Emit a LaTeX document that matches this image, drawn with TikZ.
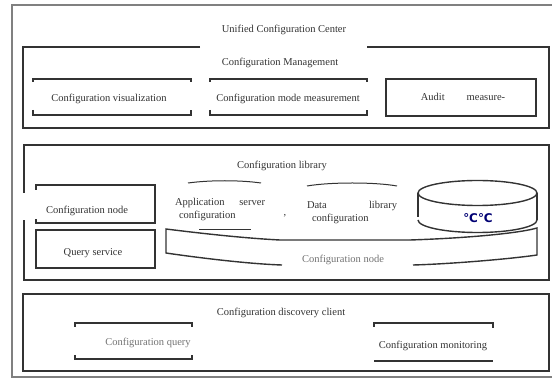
\documentclass[tikz,border=0pt]{standalone}
\usepackage{fontspec}
\setmainfont{Liberation Serif}
\newfontfamily\degfont{DejaVu Sans}
\begin{document}
\begin{tikzpicture}[x=1pt,y=-1pt,
  lbl/.style={font=\fontsize{10.5}{13}\selectfont, text=black!80, inner sep=0pt},
  faint/.style={font=\fontsize{10.5}{13}\selectfont, text=black!55, inner sep=0pt},
  frame/.style={draw=black!80, line width=1.4pt},
  thinline/.style={draw=black!80, line width=1pt},
  outer/.style={draw=black!50, line width=2.2pt}]
\useasboundingbox (0,0) rectangle (552,379);
% outer frame
\draw[outer] (552,5) -- (12,5) -- (12,377) -- (552,377);
\node[lbl] (title) at (284,30) {Unified Configuration Center};
% configuration management
\draw[frame] (200,47) -- (23,47) -- (23,128) -- (549,128) -- (549,47) -- (367,47);
\node[lbl] (mgmt) at (280,63) {Configuration Management};
\draw[frame] (33,82) -- (33,79) -- (191,79) -- (191,82);
\draw[frame] (33,110) -- (33,115) -- (191,115) -- (191,110);
\node[lbl] (vis) at (109,99) {Configuration visualization};
\draw[frame] (210,82) -- (210,79) -- (367,79) -- (367,82);
\draw[frame] (210,110) -- (210,115) -- (367,115) -- (367,110);
\node[lbl] (modem) at (288,99) {Configuration mode measurement};
\draw[frame] (386,79) rectangle (536,116);
\node[lbl] (audit) at (463,97) {Audit\hspace{22pt}measure-};
% configuration library
\draw[frame] (24,193) -- (24,145) -- (549,145) -- (549,280) -- (24,280) -- (24,220);
\node[lbl] (lib) at (282,166) {Configuration library};
\draw[frame] (36,190) -- (36,185) -- (155,185) -- (155,223) -- (36,223) -- (36,219);
\node[lbl] (cnode) at (87,211) {Configuration node};
\draw[frame] (36,230) rectangle (155,268);
\node[lbl] (query) at (93,253) {Query service};
% application server configuration
\draw[thinline] (188,183) .. controls (210,180) and (240,180) .. (261,183);
\draw[thinline] (199,230) -- (251,230);
\node[lbl] (app) at (220,209) {\parbox{90pt}{Application\hfill server\\\hspace*{4pt}configuration}};
\node[lbl] (comma) at (285,216) {,};
% data library configuration
\draw[thinline] (307,186) .. controls (330,182) and (375,182) .. (397,186);
\node[lbl] (data) at (352,212) {\parbox{90pt}{Data\hfill library\\\hspace*{5pt}configuration}};
% cylinder
\draw[frame] (418,193) -- (418,217);
\draw[frame] (537,193) -- (537,220);
\draw[frame] (477.5,193) ellipse [x radius=59.5pt, y radius=12.5pt];
\draw[frame] (537,220) arc[start angle=0, end angle=-180, x radius=59.5pt, y radius=12.5pt];
\node[font=\degfont\bfseries\fontsize{12}{14}\selectfont, text=blue!45!black, inner sep=0pt] (cc) at (478,218) {℃℃};
% configuration node platform
\draw[frame] (410,240) -- (280,240) .. controls (240,238) and (190,232) .. (166,229) -- (166,253) .. controls (200,258) and (250,264) .. (282,265);
\draw[frame] (410,240) .. controls (470,238) and (520,233) .. (537,228) -- (537,255) .. controls (510,259) and (450,264) .. (413,265);
\node[faint] (platform) at (343,260) {Configuration node};
% configuration discovery client
\draw[frame] (23,294) rectangle (549,371);
\node[lbl] (disc) at (281,313) {Configuration discovery client};
\draw[frame] (75,327) -- (75,323) -- (192,323) -- (192,327);
\draw[frame] (75,355) -- (75,359) -- (192,359) -- (192,355);
\node[faint] (cquery) at (148,343) {Configuration query};
\draw[frame] (374,327) -- (374,323) -- (493,323) -- (493,328);
\draw[frame] (374,361) -- (493,361);
\node[lbl] (cmon) at (433,346) {Configuration monitoring};
\end{tikzpicture}
\end{document}
